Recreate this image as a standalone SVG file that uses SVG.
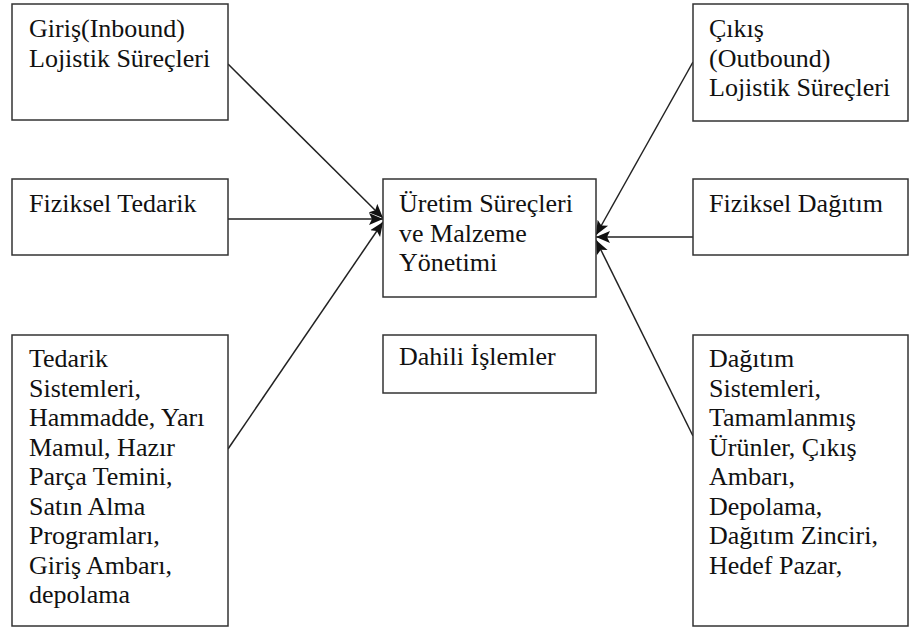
<svg xmlns="http://www.w3.org/2000/svg" width="916" height="628" viewBox="0 0 916 628">
<style>
  .box { fill: #ffffff; stroke: #333333; stroke-width: 1.5; }
  .lbl { font-family: "Liberation Serif", "Times New Roman", serif; font-size: 26px; fill: #111111; }
  .conn { stroke: #222222; stroke-width: 1.5; fill: none; marker-end: url(#arr); }
</style>
<defs>
  <marker id="arr" markerUnits="userSpaceOnUse" markerWidth="16" markerHeight="14" refX="14" refY="7" orient="auto">
    <path d="M0,1 L14,7 L0,13 L3,7 Z" fill="#111111"/>
  </marker>
</defs>
<rect width="916" height="628" fill="#ffffff"/>

<g id="connectors">
  <line class="conn" x1="228" y1="64" x2="383" y2="218"/>
  <line class="conn" x1="228" y1="219" x2="383" y2="219"/>
  <line class="conn" x1="228" y1="449" x2="383" y2="222"/>
  <line class="conn" x1="693" y1="62" x2="596" y2="235"/>
  <line class="conn" x1="693" y1="237" x2="596" y2="237"/>
  <line class="conn" x1="693" y1="436" x2="596" y2="240"/>
</g>

<g id="inbound">
  <rect class="box" x="12" y="4" width="216" height="116"/>
  <text class="lbl"><tspan x="29" y="37">Giriş(Inbound)</tspan><tspan x="29" y="67">Lojistik Süreçleri</tspan></text>
</g>

<g id="fiziksel-tedarik">
  <rect class="box" x="12" y="179" width="216" height="76"/>
  <text class="lbl" x="29" y="212">Fiziksel Tedarik</text>
</g>

<g id="tedarik-sistemleri">
  <rect class="box" x="12" y="335" width="216" height="291"/>
  <text class="lbl"><tspan x="29" y="367">Tedarik</tspan><tspan x="29" y="396.5">Sistemleri,</tspan><tspan x="29" y="426">Hammadde, Yarı</tspan><tspan x="29" y="455.5">Mamul, Hazır</tspan><tspan x="29" y="485">Parça Temini,</tspan><tspan x="29" y="514.5">Satın Alma</tspan><tspan x="29" y="544">Programları,</tspan><tspan x="29" y="573.5">Giriş Ambarı,</tspan><tspan x="29" y="603">depolama</tspan></text>
</g>

<g id="uretim">
  <rect class="box" x="383" y="179" width="213" height="118"/>
  <text class="lbl"><tspan x="399" y="212">Üretim Süreçleri</tspan><tspan x="399" y="241.5">ve Malzeme</tspan><tspan x="399" y="271">Yönetimi</tspan></text>
</g>

<g id="dahili">
  <rect class="box" x="383" y="335" width="213" height="58"/>
  <text class="lbl" x="399" y="365">Dahili İşlemler</text>
</g>

<g id="outbound">
  <rect class="box" x="693" y="4" width="215" height="117"/>
  <text class="lbl"><tspan x="709" y="37">Çıkış</tspan><tspan x="709" y="67">(Outbound)</tspan><tspan x="709" y="96">Lojistik Süreçleri</tspan></text>
</g>

<g id="fiziksel-dagitim">
  <rect class="box" x="693" y="179" width="215" height="76"/>
  <text class="lbl" x="709" y="212">Fiziksel Dağıtım</text>
</g>

<g id="dagitim-sistemleri">
  <rect class="box" x="693" y="335" width="215" height="291"/>
  <text class="lbl"><tspan x="709" y="367">Dağıtım</tspan><tspan x="709" y="396.5">Sistemleri,</tspan><tspan x="709" y="426">Tamamlanmış</tspan><tspan x="709" y="455.5">Ürünler, Çıkış</tspan><tspan x="709" y="485">Ambarı,</tspan><tspan x="709" y="514.5">Depolama,</tspan><tspan x="709" y="544">Dağıtım Zinciri,</tspan><tspan x="709" y="573.5">Hedef Pazar,</tspan></text>
</g>
</svg>
